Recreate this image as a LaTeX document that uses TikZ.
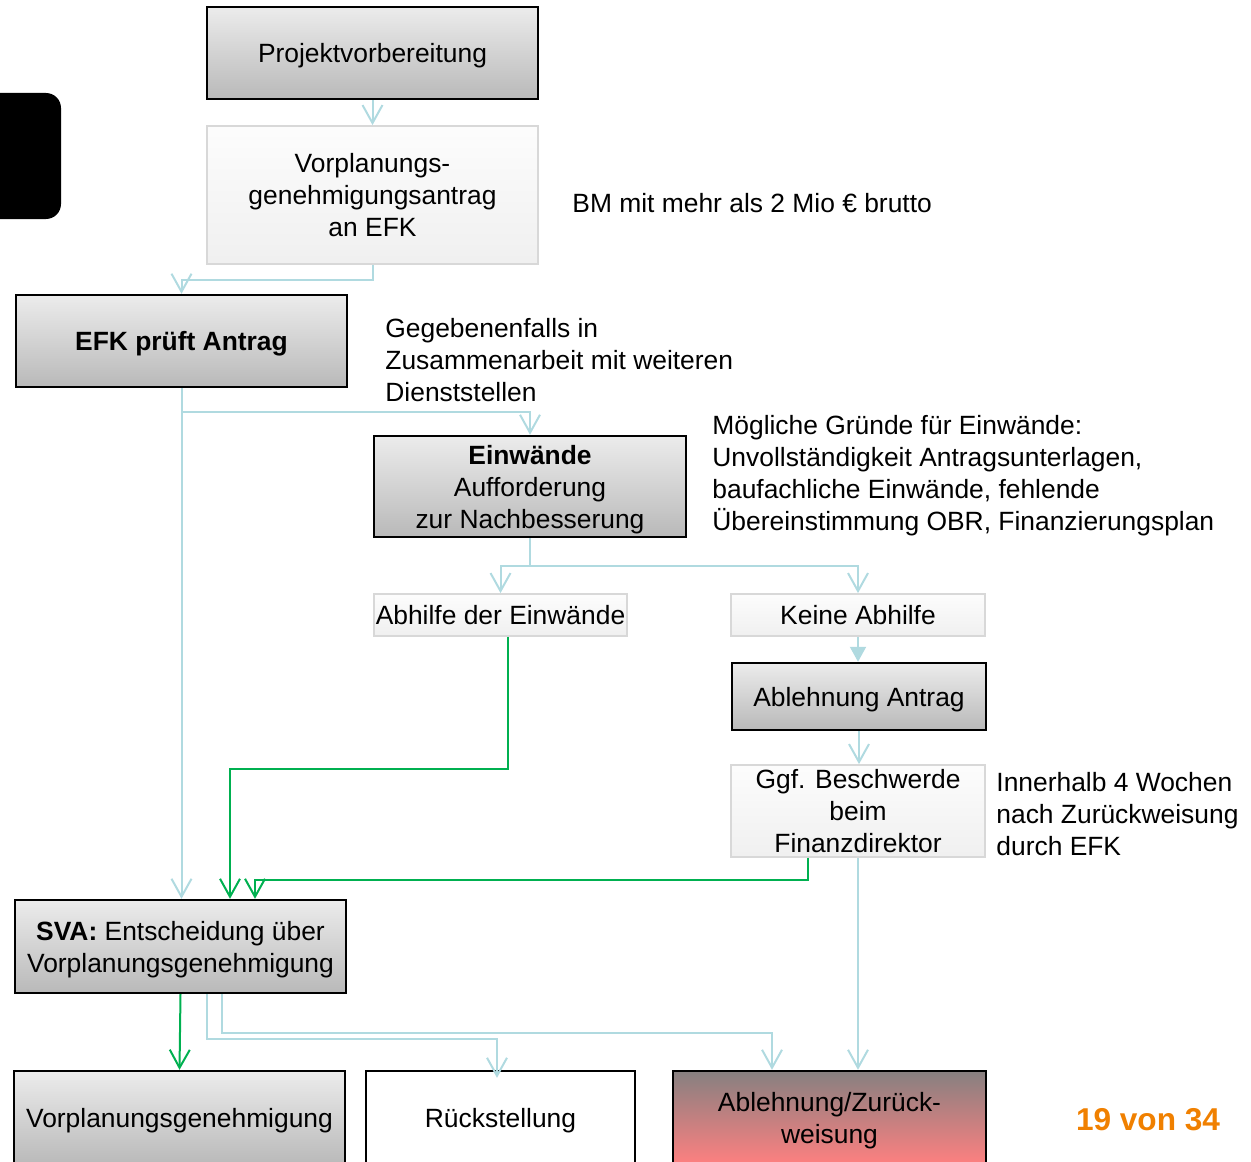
\documentclass[tikz,border=0pt]{standalone}
\usepackage{fontspec}
\setmainfont{Liberation Sans}
\usepackage{tikz}
\usetikzlibrary{arrows.meta}
\definecolor{linkblue}{RGB}{176,218,224}
\definecolor{okgreen}{RGB}{0,176,80}
\definecolor{pagenr}{RGB}{240,128,0}
\definecolor{lightframe}{RGB}{216,216,216}
\definecolor{rejtop}{RGB}{134,128,128}
\definecolor{rejbot}{RGB}{255,128,128}
\tikzset{
  greybox/.style={draw=black,line width=1.2pt,top color=gray!15,bottom color=gray!55,align=center,inner sep=0pt,text depth=0pt},
  lightbox/.style={draw=lightframe,line width=0.9pt,top color=gray!2,bottom color=gray!12,align=center,inner sep=0pt,text depth=0pt},
  whitebox/.style={draw=black,line width=1.2pt,fill=white,align=center,inner sep=0pt,text depth=0pt},
  redbox/.style={draw=black,line width=1.2pt,top color=rejtop,bottom color=rejbot,align=center,inner sep=0pt,text depth=0pt},
  note/.style={anchor=west,align=left,inner sep=0pt},
  conn/.style={draw=linkblue,line width=1pt,-{Straight Barb[length=9pt,width=10pt]}},
  okconn/.style={draw=okgreen,line width=1pt,-{Straight Barb[length=9pt,width=10pt]}},
  fillconn/.style={draw=linkblue,line width=1pt,-{Triangle[length=7.5pt,width=8pt,fill=linkblue]}}
}
\begin{document}
\begin{tikzpicture}[x=0.5pt,y=-0.5pt,font=\fontsize{13.2}{16}\selectfont]
\path[use as bounding box] (0,0) rectangle (1251,1161);
\clip (0,0) rectangle (1251,1161);
\fill[rounded corners=7.5pt] (-30,93) rectangle (61,219);

\node[greybox,minimum width=165.5pt,minimum height=46pt] (proj) at (372.5,53) {Projektvorbereitung};
\node[lightbox,minimum width=165.5pt,minimum height=69pt] (antrag) at (372.5,195) {Vorplanungs-\\genehmigungsantrag\\an EFK};
\node[greybox,minimum width=165.5pt,minimum height=46pt] (efk) at (181.5,341) {\textbf{EFK prüft Antrag}};
\node[greybox,minimum width=156pt,minimum height=50.5pt] (einw) at (530,486.5) {\textbf{Einwände}\\Aufforderung\\zur Nachbesserung};
\node[lightbox,minimum width=126.5pt,minimum height=21pt] (abhilfe) at (500.5,615) {Abhilfe der Einwände};
\node[lightbox,minimum width=127pt,minimum height=21pt] (keine) at (858,615) {Keine Abhilfe};
\node[greybox,minimum width=127pt,minimum height=33.5pt] (ablant) at (859,696.5) {Ablehnung Antrag};
\node[lightbox,minimum width=127pt,minimum height=46pt] (beschw) at (858,811) {Ggf. Beschwerde\\beim\\Finanzdirektor};
\node[greybox,minimum width=165.5pt,minimum height=46.5pt] (sva) at (180.5,946.5) {\textbf{SVA:} Entscheidung über\\Vorplanungsgenehmigung};
\node[greybox,minimum width=165.5pt,minimum height=47pt] (vgen) at (179.5,1118) {Vorplanungsgenehmigung};
\node[whitebox,minimum width=134.5pt,minimum height=47pt] (rueck) at (500.5,1118) {Rückstellung};
\node[redbox,minimum width=156.5pt,minimum height=47pt] (ablz) at (829.5,1118) {Ablehnung/Zurück-\\weisung};

\node[note] (bmnote) at (572,203) {BM mit mehr als 2 Mio € brutto};
\node[note] (dsnote) at (385,360) {Gegebenenfalls in\\Zusammenarbeit mit weiteren\\Dienststellen};
\node[note] (grnote) at (712,475.5) {Mögliche Gründe für Einwände:\\Unvollständigkeit Antragsunterlagen,\\baufachliche Einwände, fehlende\\Übereinstimmung OBR, Finanzierungsplan};
\node[note] (frnote) at (996,814) {Innerhalb 4 Wochen\\nach Zurückweisung\\durch EFK};
\node[font=\fontsize{15.8}{18}\selectfont\bfseries,text=pagenr,inner sep=0pt] (pagenum) at (1148,1120) {19 von 34};

\draw[conn] (proj) -- (antrag);
\draw[conn] (antrag.south) -- ++(0,15) -| (efk.north);
\draw[conn] (efk.south) -- (efk.south |- sva.north);
\draw[conn] (efk.south) -- ++(0,24) -| (einw.north);
\draw[conn] (einw.south) -- ++(0,28) -| (abhilfe.north);
\draw[conn] (einw.south) -- ++(0,28) -| (keine.north);
\draw[fillconn] (keine.south) -- (keine.south |- ablant.north);
\draw[conn] (ablant.south) -- (ablant.south |- beschw.north);
\draw[okconn] ([xshift=3.75pt]abhilfe.south) -- ++(0,132) -| ([xshift=24.75pt]sva.north);
\draw[okconn] ([xshift=-25pt]beschw.south) -- ++(0,22) -| ([xshift=37.25pt]sva.north);
\draw[conn] (beschw.south) -- (beschw.south |- ablz.north);
\draw[okconn] (sva.south) -- (vgen.north);
\draw[conn] ([xshift=13.25pt]sva.south) -- ++(0,45) -| ([xshift=-1.75pt,yshift=-4pt]rueck.north);
\draw[conn] ([xshift=20.75pt]sva.south) -- ++(0,39) -| ([xshift=-28.75pt]ablz.north);
\end{tikzpicture}
\end{document}
